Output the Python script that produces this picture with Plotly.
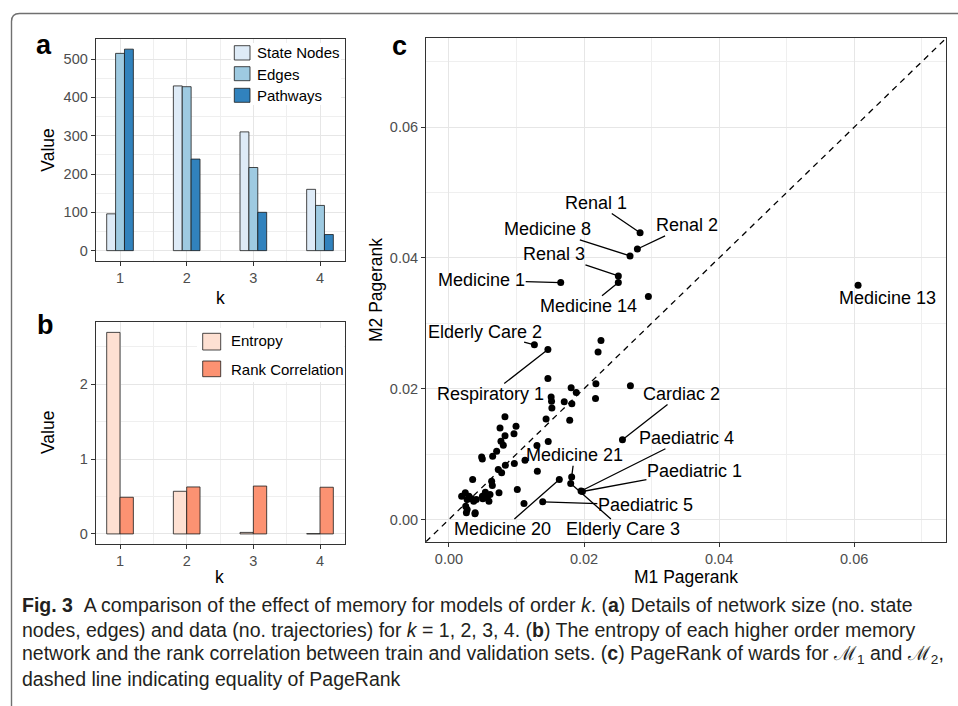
import plotly.graph_objects as go

# ---------------- data ----------------
k_values = [1, 2, 3, 4]
state_nodes = [96, 430, 310, 160]
edges = [515, 428, 217, 118]
pathways = [526, 239, 100, 42]

entropy = [2.695, 0.57, 0.02, 0.003]
rank_correlation = [0.49, 0.628, 0.64, 0.624]

m1_pagerank = [
    0.01265, 0.01465, 0.02251, 0.02208, 0.01465, 0.02176, 0.02687, 0.01809, 0.01885, 0.01513,
    0.01519, 0.01707, 0.0182, 0.01524, 0.0217, 0.01788, 0.01438, 0.00829, 0.00756, 0.00993,
    0.0083, 0.00963, 0.0077, 0.00805, 0.0147, 0.01303, 0.02569, 0.00706, 0.00484, 0.00494,
    0.00647, 0.00835, 0.00968, 0.01126, 0.01309, 0.0073, 0.0078, 0.00351, 0.00632, 0.00642,
    0.00539, 0.00741, 0.01012, 0.01634, 0.01817, 0.01803, 0.01956, 0.01976, 0.01388, 0.01111,
    0.00188, 0.00242, 0.00269, 0.00296, 0.00334, 0.00366, 0.00404, 0.00248, 0.00258, 0.00388,
    0.00501, 0.00565, 0.00592, 0.00608, 0.00495, 0.00269, 0.00385,
    0.0283, 0.0279, 0.02681, 0.02508, 0.02508, 0.01655, 0.02953, 0.06058,
]
m2_pagerank = [
    0.02672, 0.02600, 0.02738, 0.0256, 0.02158, 0.02076, 0.02046, 0.02015, 0.01944, 0.01873,
    0.01807, 0.01802, 0.01771, 0.01705, 0.01852, 0.01517, 0.01537, 0.01573, 0.014, 0.01425,
    0.01282, 0.01313, 0.01196, 0.01135, 0.01191, 0.0113, 0.01221, 0.01043, 0.00957, 0.00926,
    0.00967, 0.0083, 0.00855, 0.00906, 0.00738, 0.00763, 0.00713, 0.00611, 0.00585, 0.00519,
    0.00417, 0.00407, 0.00458, 0.00611, 0.00651, 0.0055, 0.00436, 0.00428, 0.0027, 0.00244,
    0.00356, 0.00407, 0.00305, 0.00356, 0.00316, 0.0028, 0.00305, 0.00204, 0.00102, 0.00102,
    0.00316, 0.00331, 0.0028, 0.00382, 0.00356, 0.00153, 0.00087,
    0.04386, 0.04137, 0.04031, 0.03725, 0.03623, 0.03623, 0.03409, 0.03583,
]

ward_names = ["Renal 1", "Renal 2", "Medicine 8", "Renal 3", "Medicine 14", "Medicine 1",
              "Medicine 13", "Elderly Care 2", "Respiratory 1", "Cardiac 2", "Paediatric 4",
              "Medicine 21", "Paediatric 1", "Paediatric 5", "Medicine 20", "Elderly Care 3"]
ward_m1 = [0.0283, 0.0279, 0.02681, 0.02508, 0.02508, 0.01655, 0.06058, 0.01265, 0.01465,
           0.02569, 0.01956, 0.01817, 0.01976, 0.01388, 0.01634, 0.01803]
ward_m2 = [0.04386, 0.04137, 0.04031, 0.03725, 0.03623, 0.03623, 0.03583, 0.02672, 0.026,
           0.01221, 0.00436, 0.00651, 0.00428, 0.0027, 0.00611, 0.0055]
label_m1 = [0.02181, 0.03527, 0.01454, 0.01562, 0.02073, 0.00485, 0.06489, 0.00539, 0.00619,
            0.03436, 0.03516, 0.01858, 0.03635, 0.02908, 0.00792, 0.02574]
label_m2 = [0.0484, 0.04499, 0.04438, 0.04056, 0.03262, 0.03659, 0.03394, 0.02875, 0.01919,
            0.01919, 0.01242, 0.00982, 0.00748, 0.00219, -0.00153, -0.00153]
has_segment = [True, True, True, True, True, True, False, True, True, True, True, True, True,
               True, True, True]

pagerank_limits = [-0.0034, 0.0736]

# ---------------- helpers ----------------
W, H = 958, 706
FONT = "Liberation Sans, Arial, sans-serif"


def px(x):
    return x / W


def py(y):
    return 1 - y / H


GRID = "#e6e6e6"
MINOR = "#efefef"
FRAME = "#333333"
TICKC = "#4d4d4d"


def axis_style(**kw):
    d = dict(showline=True, mirror=True, linecolor=FRAME, linewidth=1,
             ticks="outside", ticklen=4, tickcolor=FRAME, tickwidth=1,
             tickfont=dict(family=FONT, size=14.5, color=TICKC),
             showgrid=True, gridcolor=GRID, gridwidth=1.3, zeroline=False)
    d.update(kw)
    return d


fig = go.Figure()

# panel a bars
for name, vals, col in [("State Nodes", state_nodes, "#deebf7"),
                        ("Edges", edges, "#9ecae1"),
                        ("Pathways", pathways, "#3182bd")]:
    fig.add_trace(go.Bar(x=k_values, y=vals, name=name, xaxis="x", yaxis="y",
                         marker=dict(color=col, line=dict(color="#1a1a1a", width=0.8)),
                         showlegend=False))

# panel b bars
for name, vals, col in [("Entropy", entropy, "#fee0d2"),
                        ("Rank Correlation", rank_correlation, "#fc9272")]:
    fig.add_trace(go.Bar(x=k_values, y=vals, name=name, xaxis="x2", yaxis="y2",
                         marker=dict(color=col, line=dict(color="#1a1a1a", width=0.8)),
                         showlegend=False))

# panel c
fig.add_trace(go.Scatter(x=pagerank_limits, y=pagerank_limits, mode="lines",
                         xaxis="x3", yaxis="y3", showlegend=False,
                         line=dict(color="black", width=1.3, dash="6px,5px")))
fig.add_trace(go.Scatter(x=m1_pagerank, y=m2_pagerank, mode="markers",
                         xaxis="x3", yaxis="y3", showlegend=False,
                         marker=dict(size=7, color="black")))

fig.update_layout(
    width=W, height=H, margin=dict(l=0, r=0, t=0, b=0),
    paper_bgcolor="white", plot_bgcolor="white",
    barmode="group", bargap=0.6, bargroupgap=0,
    font=dict(family=FONT, color="black"),
    xaxis=axis_style(domain=[px(95.7), px(345)], anchor="y", range=[0.635, 4.375],
                     tickvals=k_values, ticktext=[str(v) for v in k_values],
                     minor=dict(tickvals=[1.5, 2.5, 3.5], showgrid=True, gridcolor=MINOR,
                                gridwidth=0.8, ticks="")),
    yaxis=axis_style(domain=[py(260.7), py(39)], anchor="x", range=[-26.3, 552.5],
                     tick0=0, dtick=100,
                     minor=dict(tick0=0, dtick=50, showgrid=True, gridcolor=MINOR,
                                gridwidth=0.8, ticks="")),
    xaxis2=axis_style(domain=[px(95.7), px(345)], anchor="y2", range=[0.635, 4.375],
                      tickvals=k_values, ticktext=[str(v) for v in k_values],
                      minor=dict(tickvals=[1.5, 2.5, 3.5], showgrid=True, gridcolor=MINOR,
                                 gridwidth=0.8, ticks="")),
    yaxis2=axis_style(domain=[py(544), py(322.3)], anchor="x2", range=[-0.135, 2.83],
                      tick0=0, dtick=1,
                      minor=dict(tick0=0, dtick=0.5, showgrid=True, gridcolor=MINOR,
                                 gridwidth=0.8, ticks="")),
    xaxis3=axis_style(domain=[px(426), px(946)], anchor="y3", range=pagerank_limits,
                      tick0=0, dtick=0.02, tickformat=".2f",
                      minor=dict(tick0=0, dtick=0.01, showgrid=True, gridcolor=MINOR,
                                 gridwidth=0.8, ticks="")),
    yaxis3=axis_style(domain=[py(541.7), py(38.3)], anchor="x3", range=pagerank_limits,
                      tick0=0, dtick=0.02, tickformat=".2f",
                      minor=dict(tick0=0, dtick=0.01, showgrid=True, gridcolor=MINOR,
                                 gridwidth=0.8, ticks="")),
)

shapes = []
annotations = []

# figure frame with rounded top-left corner
shapes.append(dict(type="path", xref="paper", yref="paper",
                   path=f"M {px(11.5)},{py(706)} L {px(11.5)},{py(21.5)} "
                        f"Q {px(11.5)},{py(13.5)} {px(19.5)},{py(13.5)} L {px(958)},{py(13.5)}",
                   line=dict(color="#707070", width=1.4)))


def rect(x0, y0, x1, y1, fill, line_col="#1a1a1a", lw=0.8):
    shapes.append(dict(type="rect", xref="paper", yref="paper",
                       x0=px(x0), x1=px(x1), y0=py(y1), y1=py(y0),
                       fillcolor=fill, line=dict(color=line_col, width=lw), layer="above"))


def text(x, y, s, size, xanchor="center", angle=0, color="black", yanchor="middle"):
    annotations.append(dict(xref="paper", yref="paper", x=px(x), y=py(y), text=s,
                            showarrow=False, xanchor=xanchor, yanchor=yanchor,
                            textangle=angle,
                            font=dict(family=FONT, size=size, color=color)))


# legend a
rect(231, 43, 341, 105, "white", "white", 0)
for (y0, y1), col, name, yc in zip([(45.7, 60), (66.7, 80.7), (88.3, 102.3)],
                                   ["#deebf7", "#9ecae1", "#3182bd"],
                                   ["State Nodes", "Edges", "Pathways"],
                                   [52.7, 74.3, 95.7]):
    rect(234.3, y0, 250, y1, col)
    text(255, yc, name, 15, xanchor="left")

# legend b
rect(197, 328, 344, 382, "white", "white", 0)
for (y0, y1), col, name, yc in zip([(333.3, 350), (361, 376.7)],
                                   ["#fee0d2", "#fc9272"],
                                   ["Entropy", "Rank Correlation"],
                                   [341, 369.3]):
    rect(202.7, y0, 220.7, y1, col)
    text(229, yc, name, 15, xanchor="left")

# panel tags
text(44, 45, "<b>a</b>", 27)
text(45, 325, "<b>b</b>", 27)
text(399, 46, "<b>c</b>", 27)

# axis titles
text(48, 150.7, "Value", 17.5, angle=-90)
text(220, 298, "k", 17.5)
text(48, 433, "Value", 17.5, angle=-90)
text(219, 577, "k", 17.5)
text(376, 290, "M2 Pagerank", 17.5, angle=-90)
text(686, 577, "M1 Pagerank", 17.5)

# ward labels with repel-like segments
for name, x, y, lx, ly, seg in zip(ward_names, ward_m1, ward_m2, label_m1, label_m2, has_segment):
    if seg:
        annotations.append(dict(xref="x3", yref="y3", x=x, y=y, ax=lx, ay=ly,
                                axref="x3", ayref="y3", text=name, showarrow=True,
                                arrowhead=0, arrowwidth=1.3, arrowcolor="black",
                                standoff=0, startstandoff=0, borderpad=0,
                                font=dict(family=FONT, size=18, color="black")))
    else:
        annotations.append(dict(xref="x3", yref="y3", x=lx, y=ly, text=name,
                                showarrow=False,
                                font=dict(family=FONT, size=18, color="black")))

# caption
cap = [
    "<b>Fig. 3</b>\u00a0\u00a0A comparison of the effect of memory for models of order <i>k</i>. "
    "(<b>a</b>) Details of network size (no. state",
    "nodes, edges) and data (no. trajectories) for <i>k</i> = 1, 2, 3, 4. (<b>b</b>) The entropy "
    "of each higher order memory",
    "network and the rank correlation between train and validation sets. (<b>c</b>) PageRank of "
    "wards for \u2133<sub>1</sub> and \u2133<sub>2</sub>,",
    "dashed line indicating equality of PageRank",
]
for i, line in enumerate(cap):
    text(20, 605 + i * 24.7, line, 19.5, xanchor="left", color="#231f20")

fig.update_layout(shapes=shapes, annotations=annotations)
fig.write_html("out.html",
               config={"displayModeBar": False},
               post_script="document.body.style.margin='0';"
                           "document.body.style.overflow='hidden';")
